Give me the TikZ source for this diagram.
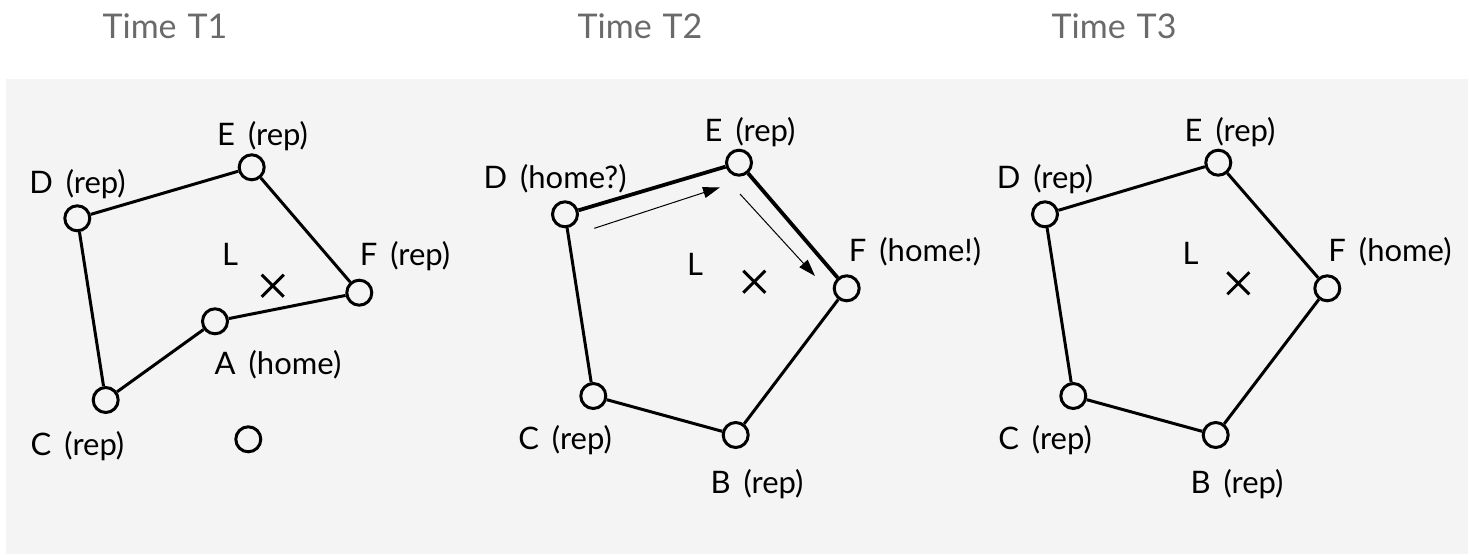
\documentclass[tikz,border=0pt]{standalone}
\usepackage{fontspec}
\setmainfont{Lato}
\usetikzlibrary{arrows.meta,calc}
\definecolor{bg}{HTML}{F4F4F4}
\definecolor{titlegray}{HTML}{6A6A6A}
\newcommand{\lblfont}{\fontsize{31}{31}\selectfont\spaceskip 13pt\relax}
\newcommand{\ttlfont}{\fontsize{34}{34}\selectfont\spaceskip 11pt\relax}
\tikzset{
  x=1pt, y=-1pt,
  vtx/.style={circle, draw=black, line width=3pt, fill=bg, minimum size=25pt, inner sep=0pt},
  lbl/.style={anchor=base, inner sep=0pt, font={\lblfont}},
  ttl/.style={anchor=base, inner sep=0pt, text=titlegray, font={\ttlfont}},
  edge/.style={line width=3pt},
  hedge/.style={line width=3.8pt},
  mv/.style={line width=1pt, -{Triangle[length=17pt,width=11pt]}},
  xmark/.style={line width=3pt}
}
\begin{document}
\begin{tikzpicture}
\useasboundingbox (0,0) rectangle (1469,554);
\fill[bg] (6,79) rectangle (1468,554);

% titles
\node[ttl] (t1) at (165,38) {Time T1};
\node[ttl] (t2) at (640,38) {Time T2};
\node[ttl] (t3) at (1114,38) {Time T3};

% ---------- Panel 1 ----------
\node[vtx] (a1) at (215,321.3) {};
\node[vtx] (c1) at (105.7,400) {};
\node[vtx] (d1) at (77.3,218.3) {};
\node[vtx] (e1) at (251.7,167.3) {};
\node[vtx] (f1) at (359.3,292.7) {};
\node[vtx] (g1) at (248.3,439.3) {};
\draw[edge] (d1) -- (e1);
\draw[edge] (e1) -- (f1);
\draw[edge] (f1) -- (a1);
\draw[edge] (a1) -- (c1);
\draw[edge] (c1) -- (d1);
\coordinate (x1) at (272.7,285.7);
\draw[xmark] ($(x1)+(-11,-11)$) -- ($(x1)+(11,11)$);
\draw[xmark] ($(x1)+(-11,11)$) -- ($(x1)+(11,-11)$);
\node[lbl] (le1) at (262.5,145) {E (rep)};
\node[lbl] (ld1) at (77.5,193) {D (rep)};
\node[lbl] (ll1) at (230,265) {L};
\node[lbl] (lf1) at (405,265) {F (rep)};
\node[lbl] (la1) at (278,374) {A (home)};
\node[lbl] (lc1) at (77.5,455) {C (rep)};

% ---------- Panel 2 ----------
\node[vtx] (b2) at (735.7,435) {};
\node[vtx] (c2) at (593.3,396) {};
\node[vtx] (d2) at (565,214.3) {};
\node[vtx] (e2) at (739,162.7) {};
\node[vtx] (f2) at (846.7,288.3) {};
\draw[hedge] (d2) -- (e2);
\draw[hedge] (e2) -- (f2);
\draw[edge] (f2) -- (b2);
\draw[edge] (b2) -- (c2);
\draw[edge] (c2) -- (d2);
\coordinate (x2) at (754.3,281.7);
\draw[xmark] ($(x2)+(-11,-11)$) -- ($(x2)+(11,11)$);
\draw[xmark] ($(x2)+(-11,11)$) -- ($(x2)+(11,-11)$);
\coordinate (m1s) at (594.3,228.3);
\coordinate (m1e) at (720,187.3);
\coordinate (m2s) at (740,194);
\coordinate (m2e) at (815,276);
\draw[mv] (m1s) -- (m1e);
\draw[mv] (m2s) -- (m2e);
\node[lbl] (le2) at (750,141) {E (rep)};
\node[lbl] (ld2) at (555,188) {D (home?)};
\node[lbl] (ll2) at (695,275) {L};
\node[lbl] (lf2) at (915,261) {F (home!)};
\node[lbl] (lc2) at (565,449) {C (rep)};
\node[lbl] (lb2) at (757,493) {B (rep)};

% ---------- Panel 3 ----------
\node[vtx] (b3) at (1215.7,435) {};
\node[vtx] (c3) at (1073.3,396) {};
\node[vtx] (d3) at (1045,214.3) {};
\node[vtx] (e3) at (1218.3,162.7) {};
\node[vtx] (f3) at (1327.3,288.3) {};
\draw[edge] (d3) -- (e3);
\draw[edge] (e3) -- (f3);
\draw[edge] (f3) -- (b3);
\draw[edge] (b3) -- (c3);
\draw[edge] (c3) -- (d3);
\coordinate (x3) at (1238.3,283.3);
\draw[xmark] ($(x3)+(-11,-11)$) -- ($(x3)+(11,11)$);
\draw[xmark] ($(x3)+(-11,11)$) -- ($(x3)+(11,-11)$);
\node[lbl] (le3) at (1230,141) {E (rep)};
\node[lbl] (ld3) at (1045,188) {D (rep)};
\node[lbl] (ll3) at (1190.5,264) {L};
\node[lbl] (lf3) at (1390,261) {F (home)};
\node[lbl] (lc3) at (1045,449) {C (rep)};
\node[lbl] (lb3) at (1237,493) {B (rep)};
\end{tikzpicture}
\end{document}
